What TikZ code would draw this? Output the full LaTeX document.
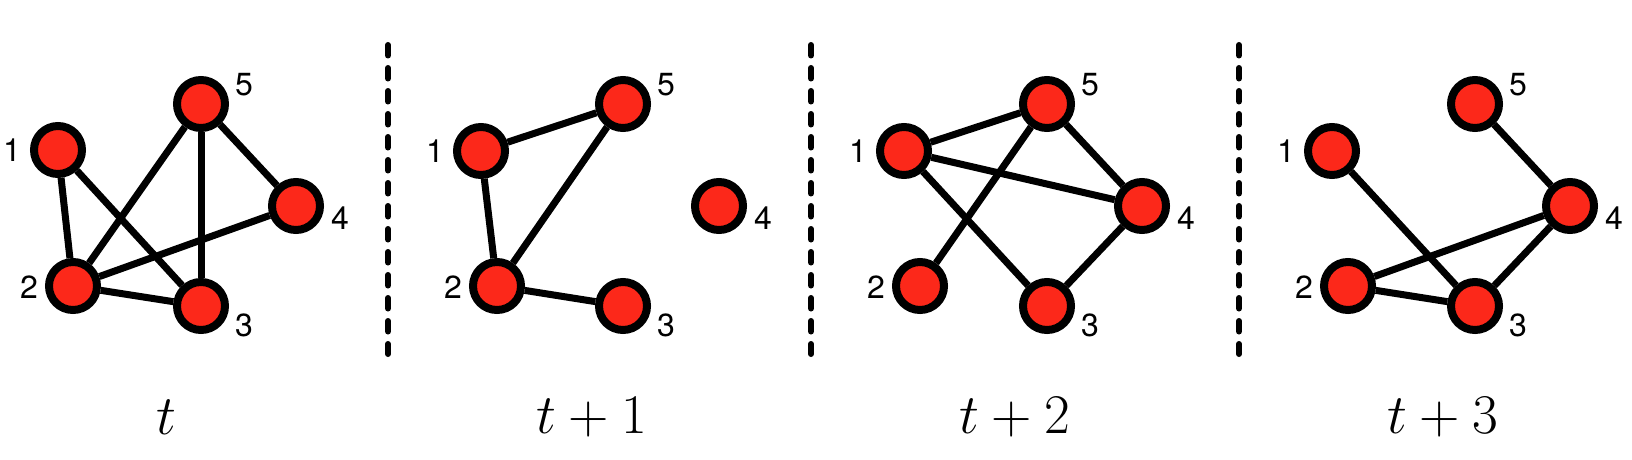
\RequirePackage{fix-cm}
\documentclass[tikz,border=0pt]{standalone}
\usepackage{fontspec}
\newfontfamily\lblfont{TeX Gyre Heros}
\usetikzlibrary{positioning}
\definecolor{vred}{RGB}{252,40,26}

\begin{document}
\begin{tikzpicture}[x=1pt, y=-1pt]
    % Page frame
    \useasboundingbox (0,0) rectangle (1632,460);
    \tikzstyle{vtx}   = [circle, minimum size = 48pt, inner sep = 0pt, line width = 8pt, draw = black, fill = vred]
    \tikzstyle{lbl}   = [inner sep = 0pt, font = \lblfont\fontsize{32}{34}\selectfont]
    \tikzstyle{edge}  = [line width = 7pt]
    \tikzstyle{sep}   = [line width = 6pt, line cap = round, dash pattern = on 10.5pt off 12.5pt]
    \tikzstyle{time}  = [font = \fontsize{56}{60}\selectfont]

    % Snapshot t
    \node[vtx] (a1) at (58,150)  {};
    \node[vtx] (a2) at (73,286)  {};
    \node[vtx] (a3) at (201,306) {};
    \node[vtx] (a4) at (296,206) {};
    \node[vtx] (a5) at (201,104) {};
    \node[lbl] (a1l) at ([shift={(-46,0)}]a1)  {1};
    \node[lbl] (a2l) at ([shift={(-44,1)}]a2)  {2};
    \node[lbl] (a3l) at ([shift={(43,19)}]a3)  {3};
    \node[lbl] (a4l) at ([shift={(44,12)}]a4)  {4};
    \node[lbl] (a5l) at ([shift={(43,-19)}]a5) {5};
    \node[time] (ta) at (166,417) {$t$};

    \draw[edge] (a1) -- (a2);
    \draw[edge] (a1) -- (a3);
    \draw[edge] (a2) -- (a5);
    \draw[edge] (a5) -- (a3);
    \draw[edge] (a5) -- (a4);
    \draw[edge] (a2) -- (a4);
    \draw[edge] (a2) -- (a3);

    % Snapshot t+1
    \node[vtx] (b1) at (481,151) {};
    \node[vtx] (b2) at (497,286) {};
    \node[vtx] (b3) at (623,306) {};
    \node[vtx] (b4) at (719,206) {};
    \node[vtx] (b5) at (623,104) {};
    \node[lbl] (b1l) at ([shift={(-46,0)}]b1)  {1};
    \node[lbl] (b2l) at ([shift={(-44,1)}]b2)  {2};
    \node[lbl] (b3l) at ([shift={(43,19)}]b3)  {3};
    \node[lbl] (b4l) at ([shift={(44,12)}]b4)  {4};
    \node[lbl] (b5l) at ([shift={(43,-19)}]b5) {5};
    \node[time] (tb) at (592,417) {$t+1$};

    \draw[edge] (b1) -- (b5);
    \draw[edge] (b1) -- (b2);
    \draw[edge] (b2) -- (b5);
    \draw[edge] (b2) -- (b3);

    % Snapshot t+2
    \node[vtx] (c1) at (904,151)  {};
    \node[vtx] (c2) at (920,286)  {};
    \node[vtx] (c3) at (1047,306) {};
    \node[vtx] (c4) at (1142,206) {};
    \node[vtx] (c5) at (1047,104) {};
    \node[lbl] (c1l) at ([shift={(-46,0)}]c1)  {1};
    \node[lbl] (c2l) at ([shift={(-44,1)}]c2)  {2};
    \node[lbl] (c3l) at ([shift={(43,19)}]c3)  {3};
    \node[lbl] (c4l) at ([shift={(44,12)}]c4)  {4};
    \node[lbl] (c5l) at ([shift={(43,-19)}]c5) {5};
    \node[time] (tc) at (1015,417) {$t+2$};

    \draw[edge] (c1) -- (c5);
    \draw[edge] (c1) -- (c4);
    \draw[edge] (c1) -- (c3);
    \draw[edge] (c5) -- (c2);
    \draw[edge] (c5) -- (c4);
    \draw[edge] (c4) -- (c3);

    % Snapshot t+3
    \node[vtx] (d1) at (1332,151) {};
    \node[vtx] (d2) at (1348,286) {};
    \node[vtx] (d3) at (1475,306) {};
    \node[vtx] (d4) at (1570,206) {};
    \node[vtx] (d5) at (1475,104) {};
    \node[lbl] (d1l) at ([shift={(-46,0)}]d1)  {1};
    \node[lbl] (d2l) at ([shift={(-44,1)}]d2)  {2};
    \node[lbl] (d3l) at ([shift={(43,19)}]d3)  {3};
    \node[lbl] (d4l) at ([shift={(44,12)}]d4)  {4};
    \node[lbl] (d5l) at ([shift={(43,-19)}]d5) {5};
    \node[time] (td) at (1443,417) {$t+3$};

    \draw[edge] (d5) -- (d4);
    \draw[edge] (d1) -- (d3);
    \draw[edge] (d2) -- (d4);
    \draw[edge] (d2) -- (d3);
    \draw[edge] (d4) -- (d3);

    % Separators
    \draw[sep] (388,45) -- (388,354);
    \draw[sep] (811,45) -- (811,354);
    \draw[sep] (1239,45) -- (1239,354);
\end{tikzpicture}
\end{document}
